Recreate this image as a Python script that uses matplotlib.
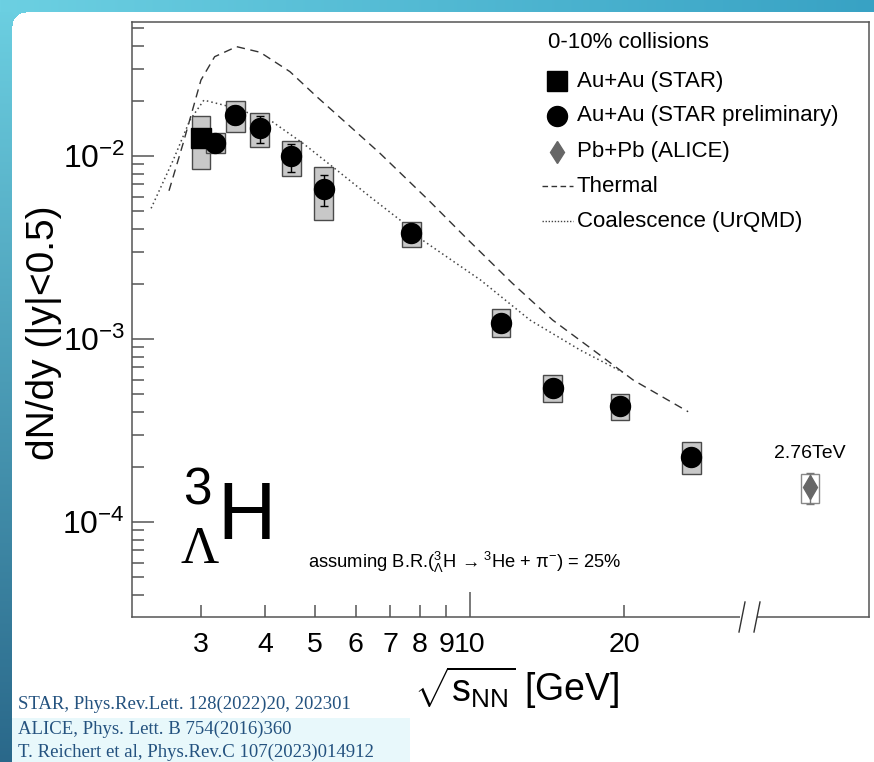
import numpy as np
import matplotlib
matplotlib.use("Agg")
import matplotlib.pyplot as plt
from matplotlib.lines import Line2D
from matplotlib.patches import Rectangle
from matplotlib.ticker import FixedLocator, FixedFormatter, LogLocator, NullFormatter

plt.rcParams['font.family'] = ['Liberation Sans', 'DejaVu Sans']
plt.rcParams['mathtext.fontset'] = 'custom'
plt.rcParams['mathtext.rm'] = 'Liberation Sans'
plt.rcParams['mathtext.it'] = 'Liberation Sans:italic'
plt.rcParams['mathtext.bf'] = 'Liberation Sans:bold'
plt.rcParams['mathtext.sf'] = 'Liberation Sans'

# ---------------- data ----------------
# Au+Au (STAR, published)
energy_star = [3.0]
dndy_star = [0.0126]
sys_lo_star = [0.0085]
sys_hi_star = [0.0165]

# Au+Au (STAR preliminary)
energy_prel = [3.2, 3.5, 3.9, 4.5, 5.2, 7.7, 11.5, 14.5, 19.6, 27.0]
dndy_prel = [0.0118, 0.0168, 0.0143, 0.0100, 0.00658, 0.00378, 0.00123, 0.000542, 0.000430, 0.000227]
stat_lo_prel = [0.0112, 0.0150, 0.01173, 0.00821, 0.00535, 0.00345, 0.00113, 0.000505, 0.000400, 0.000208]
stat_hi_prel = [0.0124, 0.0187, 0.0166, 0.01163, 0.00787, 0.00412, 0.00134, 0.000580, 0.000462, 0.000248]
sys_lo_prel = [0.01034, 0.01358, 0.01124, 0.00780, 0.00447, 0.00317, 0.00102, 0.000451, 0.000360, 0.000182]
sys_hi_prel = [0.01331, 0.0200, 0.01712, 0.01212, 0.00867, 0.00437, 0.00146, 0.000635, 0.000501, 0.000275]

# Pb+Pb (ALICE) at 2.76 TeV
energy_alice = [2760.0]
dndy_alice = [1.56e-4]
stat_lo_alice = [1.25e-4]
stat_hi_alice = [1.85e-4]
sys_lo_alice = [1.265e-4]
sys_hi_alice = [1.83e-4]

# Thermal model
energy_thermal = [2.60, 2.77, 3.0, 3.19, 3.52, 3.91, 4.47, 5.04, 5.76, 6.69, 8.31, 9.86, 12.1, 14.5, 17.7, 20.8, 26.6]
dndy_thermal = [0.00646, 0.01173, 0.0260, 0.0349, 0.0396, 0.0369, 0.0289, 0.0211, 0.0151, 0.01035, 0.00575,
                0.00355, 0.00202, 0.00127, 0.000839, 0.000597, 0.000401]

# Coalescence (UrQMD)
energy_coal = [2.40, 2.65, 2.855, 3.04, 3.42, 4.09, 4.74, 5.51, 6.40, 7.32, 8.0, 10.5, 13.1, 16.4, 20.0]
dndy_coal = [0.00518, 0.00951, 0.0157, 0.0202, 0.0186, 0.0157, 0.01173, 0.00839, 0.00599, 0.00447, 0.00355,
             0.00210, 0.00127, 0.000871, 0.000652]

x_major = [10]
x_minor = [3, 4, 5, 6, 7, 8, 9, 20]

# ---------------- figure ----------------
W, H = 874, 762
fig = plt.figure(figsize=(W / 100, H / 100), dpi=100)


def fx(px):
    return px / W


def fy(py):
    return 1 - py / H


# slide background: teal border along the top and left edge
bg = fig.add_axes([0, 0, 1, 1], zorder=-10)
bg.axis('off')
img = np.ones((H, W, 3))
yy, xx = np.mgrid[0:H, 0:W]
top_c0 = np.array([0x6c, 0xd0, 0xe2]) / 255
top_c1 = np.array([0x38, 0xa2, 0xc4]) / 255
left_c1 = np.array([0x2a, 0x68, 0x8a]) / 255
band = 12
rad = 14
top_col = top_c0[None, None, :] + (top_c1 - top_c0)[None, None, :] * (xx / W)[:, :, None]
left_col = top_c0[None, None, :] + (left_c1 - top_c0)[None, None, :] * (yy / H)[:, :, None]
cx, cy = band + rad, band + rad
corner = (xx < cx) & (yy < cy) & ((xx - cx) ** 2 + (yy - cy) ** 2 > rad ** 2)
mask_top = (yy < band) | (corner & (yy <= xx))
mask_left = ((xx < band) | (corner & (yy > xx))) & ~mask_top
img[mask_top] = top_col[mask_top]
img[mask_left] = left_col[mask_left]
cite_bg = (xx >= band) & (xx < 410) & (yy >= 718)
img[cite_bg] = np.array([0xe8, 0xf8, 0xfb]) / 255
bg.imshow(img, extent=[0, 1, 0, 1], aspect='auto', interpolation='nearest')
bg.set_xlim(0, 1)
bg.set_ylim(0, 1)

frame_col = '#555555'
left, right, top, bottom = 132, 869, 22, 617
ax = fig.add_axes([fx(left), fy(bottom), fx(right - left), (bottom - top) / H])
ax.set_xscale('log')
ax.set_yscale('log')
ax.set_xlim(2.203, 59.8)
ax.set_ylim(3.03e-5, 0.054)
for s in ax.spines.values():
    s.set_color(frame_col)
    s.set_linewidth(1.1)

ax.xaxis.set_major_locator(FixedLocator(x_major))
ax.xaxis.set_major_formatter(FixedFormatter([str(v) for v in x_major]))
ax.xaxis.set_minor_locator(FixedLocator(x_minor))
ax.xaxis.set_minor_formatter(FixedFormatter([str(v) for v in x_minor]))
ax.yaxis.set_major_locator(LogLocator(base=10, numticks=20))
ax.yaxis.set_minor_locator(LogLocator(base=10, subs=np.arange(2, 10), numticks=20))
ax.yaxis.set_minor_formatter(NullFormatter())
ax.tick_params(which='both', direction='in', color=frame_col, width=1.1, top=False, right=False)
ax.tick_params(axis='x', which='major', length=18, pad=11, labelsize=20.5)
ax.tick_params(axis='x', which='minor', length=9, pad=11, labelsize=20.5)
ax.tick_params(axis='y', which='major', length=16, pad=5, labelsize=23)
ax.tick_params(axis='y', which='minor', length=8.5)

box_w = 1.043   # half-width factor of systematic boxes on a log axis


def sys_boxes(axis, xs, lo, hi, face, edge):
    for x, l, h in zip(xs, lo, hi):
        axis.add_patch(Rectangle((x / box_w, l), x * box_w - x / box_w, h - l,
                                 facecolor=face, edgecolor=edge, linewidth=1.0, zorder=2))


# model curves
ax.plot(energy_thermal, dndy_thermal, color='#333333', lw=1.0, dashes=(6, 4), zorder=1)
ax.plot(energy_coal, dndy_coal, color='#444444', lw=1.1, dashes=(1, 2), zorder=1)

# STAR data
sys_boxes(ax, energy_star, sys_lo_star, sys_hi_star, '#c8c8c8', '#4a4a4a')
sys_boxes(ax, energy_prel, sys_lo_prel, sys_hi_prel, '#c8c8c8', '#4a4a4a')
yerr = [np.array(dndy_prel) - np.array(stat_lo_prel), np.array(stat_hi_prel) - np.array(dndy_prel)]
ax.errorbar(energy_prel, dndy_prel, yerr=yerr, fmt='none', ecolor='black', elinewidth=1.0,
            capsize=3, capthick=1.0, zorder=3)
ax.plot(energy_star, dndy_star, 's', color='black', ms=14.5, zorder=4)
ax.plot(energy_prel, dndy_prel, 'o', color='black', ms=14.4, zorder=5)

# ALICE point, shown beyond the axis break on its own log scale
ax2 = fig.add_axes([fx(757), fy(bottom), fx(right - 757), (bottom - top) / H], zorder=3)
ax2.set_xscale('log')
ax2.set_yscale('log')
ax2.set_xlim(2177, 3595)
ax2.set_ylim(3.03e-5, 0.054)
ax2.axis('off')
ax2.patch.set_alpha(0)
sys_boxes(ax2, energy_alice, sys_lo_alice, sys_hi_alice, 'white', '#888888')
yerr_a = [np.array(dndy_alice) - np.array(stat_lo_alice), np.array(stat_hi_alice) - np.array(dndy_alice)]
ax2.errorbar(energy_alice, dndy_alice, yerr=yerr_a, fmt='none', ecolor='#777777', elinewidth=1.0,
             capsize=3, capthick=1.0, zorder=3)
ax2.plot(energy_alice, dndy_alice, 'd', color='#666666', ms=12, zorder=4)
ax2.text(energy_alice[0], 2.38e-4, '2.76TeV', ha='center', va='center', fontsize=14)

# axis break on the bottom frame
fig.add_artist(Rectangle((fx(740), fy(619)), fx(17), 4 / H, facecolor='white', edgecolor='none', zorder=20))
for x0 in (742, 757):
    fig.add_artist(Line2D([fx(x0 - 3), fx(x0 + 3)], [fy(632), fy(602)], color='#333333', lw=1.0, zorder=21))

# axis titles
fig.text(fx(44), fy(333), 'dN/dy (|y|<0.5)', rotation=90, ha='center', va='center', fontsize=28)
fig.text(fx(517), fy(688), r'$\sqrt{\mathrm{s}_{\mathrm{NN}}}$ [GeV]', ha='center', va='center', fontsize=27)

# hypertriton symbol
fig.text(fx(197), fy(491), '3', ha='center', va='center', fontsize=37)
fig.text(fx(200), fy(550), 'Λ', ha='center', va='center', fontsize=38, family='Liberation Serif')
fig.text(fx(247), fy(518), 'H', ha='center', va='center', fontsize=58)

fig.text(fx(308), fy(562),
         r'assuming B.R.($^{3}_{\Lambda}$H$\,\rightarrow^{3}$He + $\mathrm{\pi}^{-}$) = 25%',
         ha='left', va='center', fontsize=13.2)

# legend
leg_x_mark, leg_x_text = 556.7, 576.7
fig.text(fx(548), fy(43), '0-10% collisions', ha='left', va='center', fontsize=16)
rows = [81, 116, 151.7, 186, 221.3]
labels = ['Au+Au (STAR)', 'Au+Au (STAR preliminary)', 'Pb+Pb (ALICE)', 'Thermal', 'Coalescence (UrQMD)']
fig.add_artist(Line2D([fx(leg_x_mark)], [fy(rows[0])], marker='s', ms=14.5, color='black', ls='none'))
fig.add_artist(Line2D([fx(leg_x_mark)], [fy(rows[1])], marker='o', ms=14.4, color='black', ls='none'))
fig.add_artist(Line2D([fx(leg_x_mark)], [fy(rows[2])], marker='d', ms=11.5, color='#666666', ls='none'))
fig.add_artist(Line2D([fx(542), fx(573)], [fy(rows[3])] * 2, color='#333333', lw=1.0, dashes=(4, 2.5)))
fig.add_artist(Line2D([fx(542), fx(573)], [fy(rows[4])] * 2, color='#444444', lw=1.0, dashes=(1, 1.2)))
for r, lab in zip(rows, labels):
    fig.text(fx(leg_x_text), fy(r), lab, ha='left', va='center', fontsize=16)

# references
cite_col = '#24527f'
refs = ['STAR, Phys.Rev.Lett. 128(2022)20, 202301',
        'ALICE, Phys. Lett. B 754(2016)360',
        'T. Reichert et al, Phys.Rev.C 107(2023)014912']
for r, t in zip([704, 729.5, 752], refs):
    fig.text(fx(18), fy(r), t, ha='left', va='center', fontsize=13.5, color=cite_col,
             family='Liberation Serif')

fig.savefig('out.png', dpi=100)
